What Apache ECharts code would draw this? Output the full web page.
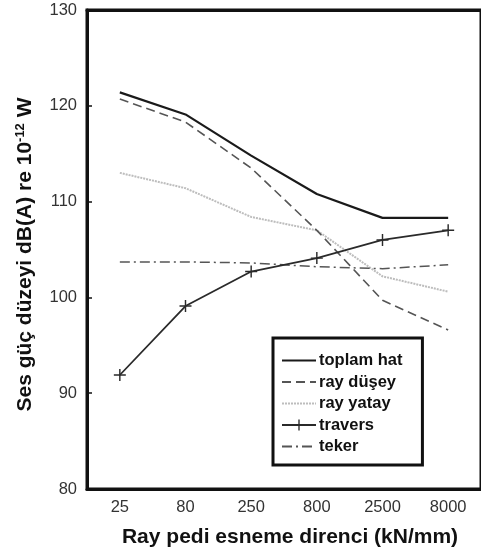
<!DOCTYPE html>
<html>
<head>
<meta charset="utf-8">
<script src="https://cdn.jsdelivr.net/npm/echarts@6/dist/echarts.min.js"></script>
<style>
  html, body { margin: 0; padding: 0; background: #fff; }
  #chart { width: 481px; height: 554px; }
</style>
</head>
<body>
<div id="chart"></div>
<script>
  // stiffness categories (kN/mm)
  var categories = ['25', '80', '250', '800', '2500', '8000'];

  // sound power level values, dB(A) re 10^-12 W
  var toplamHat = [121.4, 119.1, 114.8, 110.8, 108.3, 108.3];
  var rayDusey  = [120.7, 118.3, 113.5, 107.0, 99.7, 96.6];
  var rayYatay  = [113.0, 111.4, 108.4, 107.0, 102.2, 100.6];
  var travers   = [91.9, 99.1, 102.7, 104.1, 106.0, 107.0];
  var teker     = [103.7, 103.7, 103.6, 103.2, 103.0, 103.4];

  var plusSymbol = 'path://M4.4,0 H5.6 V4.4 H10 V5.6 H5.6 V10 H4.4 V5.6 H0 V4.4 H4.4 Z';

  var font = '"Liberation Sans", Arial, sans-serif';

  var chart = echarts.init(document.getElementById('chart'));

  var hidden = { opacity: 0 };

  var option = {
    animation: false,
    backgroundColor: '#fff',
    grid: {
      left: 87,
      top: 10,
      width: 402,
      height: 479,
      show: true,
      borderColor: '#111',
      borderWidth: 3,
      backgroundColor: 'transparent'
    },
    legend: {
      left: 273,
      top: 338,
      orient: 'vertical',
      backgroundColor: '#fff',
      borderColor: '#111',
      borderWidth: 3,
      borderRadius: 0,
      padding: [14, 20, 10, 8],
      itemGap: 4.5,
      itemWidth: 34,
      itemHeight: 14,
      textStyle: {
        fontFamily: font,
        fontWeight: 'bold',
        fontSize: 16.5,
        color: '#111',
        padding: [0, 0, 0, -2]
      },
      data: [
        { name: 'toplam hat', itemStyle: hidden },
        { name: 'ray düşey', itemStyle: hidden },
        { name: 'ray yatay', itemStyle: hidden },
        { name: 'travers' },
        { name: 'teker', itemStyle: hidden }
      ]
    },
    xAxis: [
      {
        type: 'category',
        data: categories,
        boundaryGap: true,
        position: 'bottom',
        name: 'Ray pedi esneme direnci (kN/mm)',
        nameLocation: 'middle',
        nameGap: 38,
        nameTextStyle: {
          fontFamily: font,
          fontWeight: 'bold',
          fontSize: 21,
          color: '#111',
          padding: [0, 0, 0, 12]
        },
        axisLine: { lineStyle: { color: '#111', width: 3 } },
        axisTick: { inside: true, length: 5, alignWithLabel: true, lineStyle: { color: '#111', width: 1.5 } },
        axisLabel: { margin: 10, fontFamily: font, fontSize: 16.5, color: '#333' },
        splitLine: { show: false }
      },
      {
        type: 'category',
        data: categories,
        boundaryGap: true,
        position: 'top',
        axisLine: { lineStyle: { color: '#111', width: 3 } },
        axisTick: { inside: true, length: 6, alignWithLabel: true, lineStyle: { color: '#111', width: 1.5 } },
        axisLabel: { show: false },
        splitLine: { show: false }
      }
    ],
    yAxis: {
      type: 'value',
      min: 80,
      max: 130,
      interval: 10,
      name: '{t|Ses güç düzeyi dB(A) re 10}{s|-12}{t| W}',
      nameLocation: 'middle',
      nameGap: 50,
      nameRotate: 90,
      nameTextStyle: {
        padding: [0, 10, 0, 0],
        rich: {
          t: { fontFamily: font, fontWeight: 'bold', fontSize: 21, color: '#111' },
          s: { fontFamily: font, fontWeight: 'bold', fontSize: 13, color: '#111', padding: [0, 0, 10, 0] }
        }
      },
      axisLine: { show: true, lineStyle: { color: '#111', width: 3 } },
      axisTick: { show: true, inside: true, length: 5, lineStyle: { color: '#111', width: 1.5 } },
      axisLabel: { margin: 10, fontFamily: font, fontSize: 16.5, color: '#333' },
      splitLine: { show: false }
    },
    series: [
      {
        name: 'toplam hat',
        type: 'line',
        data: toplamHat,
        symbol: 'none',
        color: '#1a1a1a',
        lineStyle: { color: '#1a1a1a', width: 2.2 },
        z: 5
      },
      {
        name: 'ray düşey',
        type: 'line',
        data: rayDusey,
        symbol: 'none',
        color: '#555',
        lineStyle: { color: '#555', width: 1.6, type: [9, 5] },
        z: 4
      },
      {
        name: 'ray yatay',
        type: 'line',
        data: rayYatay,
        symbol: 'none',
        color: '#bdbdbd',
        lineStyle: { color: '#bdbdbd', width: 2, type: [2, 1] },
        z: 3
      },
      {
        name: 'travers',
        type: 'line',
        data: travers,
        symbol: plusSymbol,
        symbolSize: 12,
        showSymbol: true,
        color: '#2a2a2a',
        itemStyle: { color: '#2a2a2a' },
        lineStyle: { color: '#2a2a2a', width: 1.8 },
        z: 6
      },
      {
        name: 'teker',
        type: 'line',
        data: teker,
        symbol: 'none',
        color: '#555',
        lineStyle: { color: '#555', width: 1.5, type: [10, 4, 2, 4] },
        z: 4
      }
    ]
  };

  chart.setOption(option);
</script>
</body>
</html>
